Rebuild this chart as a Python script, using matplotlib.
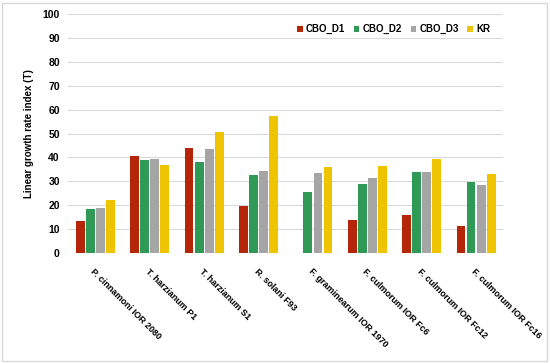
import numpy as np
import matplotlib.pyplot as plt
from matplotlib.patches import Rectangle

# strains on x axis
strains = ['P. cinnamoni IOR 2080', 'T. harzianum P1', 'T. harzianum S1', 'R. solani F93',
           'F. graminearum IOR 1970', 'F. culmorum IOR Fc6', 'F. culmorum IOR Fc12',
           'F. culmorum IOR Fc16']

cbo_d1 = [13.2, 40.5, 44.1, 19.5, 0.0, 13.9, 16.1, 11.4]
cbo_d2 = [18.6, 39.0, 38.1, 32.6, 25.5, 28.8, 34.1, 29.7]
cbo_d3 = [18.9, 39.5, 43.6, 34.5, 33.7, 31.3, 34.1, 28.3]
kr     = [22.2, 37.0, 50.8, 57.2, 36.1, 36.4, 39.5, 33.1]

series = ['CBO_D1', 'CBO_D2', 'CBO_D3', 'KR']
colors = ['#B52508', '#2E9A55', '#A5A5A5', '#F0C300']

plt.rcParams['font.family'] = ['Liberation Sans', 'DejaVu Sans']

fig = plt.figure(figsize=(5.5, 3.63), dpi=100)
ax = fig.add_axes([0.124, 0.303, 0.791, 0.658])

x = np.arange(len(strains))
w = 0.185
data = [cbo_d1, cbo_d2, cbo_d3, kr]
for i, (vals, c, name) in enumerate(zip(data, colors, series)):
    ax.bar(x + (i - 1.5) * w, vals, width=w * 0.88, color=c, label=name, zorder=3)

ax.set_ylim(0, 100)
ax.set_xlim(-0.5, len(strains) - 0.5)
ax.set_yticks(range(0, 101, 10))
ax.yaxis.grid(True, color='#D9D9D9', linewidth=0.8, zorder=0)
for s in ax.spines.values():
    s.set_visible(False)
ax.tick_params(axis='both', length=0)
ax.tick_params(axis='y', labelsize=7.5, pad=6)
for t in ax.get_yticklabels():
    t.set_fontweight('bold')

ax.set_xticks(x)
ax.set_xticklabels(strains, rotation=-45, ha='left', va='top', rotation_mode='anchor',
                   fontsize=6.5, fontweight='bold')
ax.tick_params(axis='x', pad=10)

ax.set_ylabel('Linear growth rate index (T)', fontsize=7, fontweight='bold', labelpad=6)

leg = ax.legend(loc='upper right', ncol=4, frameon=False, fontsize=7, handlelength=0.6,
                handleheight=0.6, handletextpad=0.3, columnspacing=0.9,
                bbox_to_anchor=(0.99, 0.995))
for t in leg.get_texts():
    t.set_fontweight('bold')

# light frame around the picture
fig.patches.append(Rectangle((0.004, 0.006), 0.99, 0.985, transform=fig.transFigure,
                             fill=False, edgecolor='#D9D9D9', linewidth=1))

fig.savefig('out.png', dpi=100)
